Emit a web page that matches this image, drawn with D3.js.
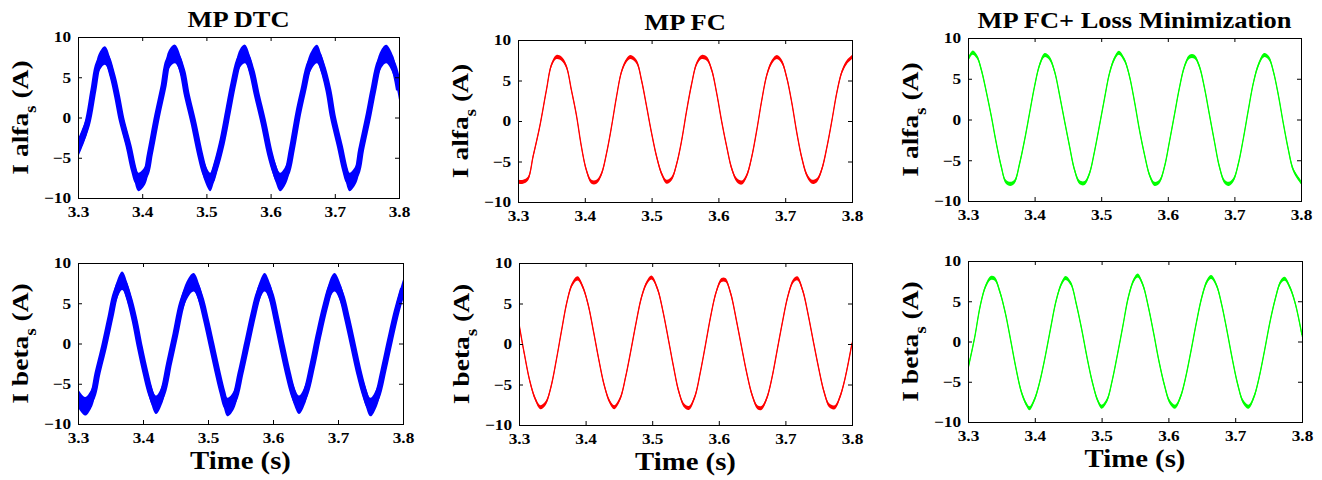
<!DOCTYPE html>
<html>
<head>
<meta charset="utf-8">
<script src="https://cdnjs.cloudflare.com/ajax/libs/d3/7.8.5/d3.min.js"></script>
<style>
body{margin:0;background:#fff;}
svg text{font-family:"Liberation Serif","Times New Roman",serif;font-weight:bold;fill:#000;}
.tick text{font-size:15px;}
</style>
</head>
<body>
<div id="chart"></div>
<script>
// stator currents: time (s) / current (A)
var dtcAlphaT = [3.300,3.314,3.324,3.332,3.342,3.353,3.361,3.368,3.379,3.387,3.394,3.405,3.412,3.423,3.433,3.441,3.451,3.462,3.469,3.480,3.490,3.498,3.506,3.513,3.524,3.534,3.542,3.552,3.560,3.570,3.578,3.589,3.599,3.607,3.615,3.625,3.633,3.643,3.651,3.661,3.672,3.679,3.690,3.697,3.708,3.716,3.723,3.734,3.741,3.752,3.760,3.770,3.780,3.791,3.800];
var dtcAlphaI = [-3.8,-0.9,3.4,6.7,7.7,5.4,2.6,-0.3,-3.6,-6.5,-8.0,-7.1,-4.5,0.1,3.8,7.1,7.9,5.9,3.0,-0.7,-4.5,-6.9,-8.0,-6.5,-3.2,0.9,4.2,7.3,7.9,5.9,3.0,-0.7,-4.5,-6.7,-8.0,-6.9,-4.0,0.5,3.4,6.7,7.9,6.7,3.4,0.1,-3.6,-6.5,-8.0,-6.9,-4.0,0.1,3.4,6.9,7.9,6.5,3.4];

var fcAlphaT = [3.300,3.3075,3.315,3.3225,3.3325,3.3425,3.35,3.3575,3.365,3.3725,3.38,3.3875,3.395,3.4025,3.41,3.4175,3.425,3.4325,3.44,3.4475,3.455,3.4625,3.4685,3.4775,3.485,3.4925,3.5,3.5075,3.515,3.5225,3.53,3.5375,3.545,3.5525,3.56,3.5675,3.575,3.5825,3.59,3.5975,3.605,3.6125,3.62,3.6275,3.635,3.6425,3.65,3.6575,3.665,3.6725,3.68,3.6875,3.695,3.7025,3.71,3.7175,3.725,3.7325,3.74,3.7475,3.755,3.7625,3.77,3.7775,3.785,3.7925,3.8];
var fcAlphaI = [-7.5,-7.5,-7.1,-4.4,-0.7,3.8,6.9,7.9,7.7,6.7,3.8,0.7,-3.2,-6.1,-7.5,-7.5,-6.5,-4.0,-0.7,3.0,6.1,7.5,7.9,7.3,5.0,1.8,-1.5,-4.4,-6.5,-7.5,-7.1,-5.3,-2.4,1.3,4.6,7.1,7.9,7.7,6.3,3.4,-0.1,-3.2,-5.9,-7.3,-7.6,-6.7,-4.4,-1.1,2.6,5.7,7.3,7.9,7.3,5.3,2.2,-1.5,-4.6,-6.7,-7.5,-7.3,-5.9,-3.2,0.1,3.6,6.1,7.3,7.9];

var lmAlphaT = [3.300,3.3065,3.3135,3.320,3.3275,3.335,3.3425,3.350,3.3565,3.3635,3.370,3.3775,3.385,3.3925,3.400,3.4075,3.415,3.4225,3.430,3.4375,3.445,3.4525,3.460,3.4675,3.475,3.4825,3.490,3.4975,3.505,3.5125,3.520,3.5265,3.535,3.5425,3.550,3.5575,3.565,3.5725,3.580,3.5875,3.595,3.6025,3.610,3.6175,3.625,3.6325,3.640,3.6475,3.655,3.6625,3.670,3.6775,3.685,3.6915,3.6985,3.706,3.7135,3.721,3.7285,3.736,3.7445,3.752,3.7585,3.766,3.7735,3.781,3.7885,3.800];
var lmAlphaI = [7.3,8.2,7.7,6.1,3.4,0.4,-2.9,-5.8,-7.6,-7.9,-7.6,-5.4,-2.5,0.8,4.1,6.7,7.9,7.5,5.9,3.0,-0.2,-3.3,-6.2,-7.7,-7.8,-6.6,-3.9,-0.7,2.6,5.7,7.5,8.2,7.3,5.3,2.2,-1.3,-4.3,-6.8,-7.9,-7.6,-5.8,-2.7,0.6,3.9,6.5,7.7,7.7,6.5,3.9,0.6,-2.7,-5.8,-7.6,-7.9,-7.4,-5.4,-2.3,1.2,4.5,6.7,7.9,7.5,5.9,3.0,-0.5,-3.7,-6.2,-7.7];

var dtcBetaT = [3.300,3.311,3.322,3.330,3.340,3.350,3.358,3.368,3.378,3.387,3.395,3.404,3.412,3.420,3.430,3.440,3.450,3.460,3.470,3.478,3.488,3.497,3.505,3.514,3.522,3.530,3.540,3.550,3.560,3.570,3.578,3.587,3.596,3.605,3.614,3.623,3.632,3.640,3.650,3.660,3.670,3.680,3.690,3.695,3.705,3.714,3.723,3.732,3.741,3.750,3.760,3.770,3.780,3.790,3.800];
var dtcBetaI = [-6.8,-7.8,-6.6,-3.7,-0.4,3.3,6.2,7.8,5.8,2.9,-0.4,-3.7,-6.2,-7.6,-6.2,-2.5,1.2,5.0,7.0,7.6,5.8,2.9,0,-3.3,-6.0,-7.9,-7.0,-3.7,0,3.7,6.2,7.6,6.2,3.1,-0.4,-3.7,-6.4,-7.6,-6.2,-2.9,1.0,4.5,7.2,7.6,6.0,3.1,-0.2,-3.5,-6.2,-7.9,-6.6,-3.3,0.4,3.9,6.8];

var fcBetaT = [3.300,3.308,3.316,3.324,3.332,3.340,3.348,3.356,3.364,3.372,3.380,3.388,3.396,3.404,3.412,3.420,3.428,3.436,3.443,3.452,3.460,3.468,3.476,3.484,3.492,3.499,3.508,3.516,3.524,3.532,3.540,3.548,3.555,3.564,3.572,3.580,3.588,3.596,3.604,3.610,3.618,3.626,3.634,3.642,3.650,3.658,3.664,3.672,3.680,3.688,3.696,3.704,3.712,3.718,3.726,3.734,3.742,3.750,3.758,3.766,3.774,3.782,3.790,3.800];
var fcBetaI = [2.5,-1.2,-4.5,-6.7,-7.8,-7.3,-5.3,-2.0,1.7,5.2,7.4,8.1,7.0,4.8,1.5,-2.0,-5.1,-7.1,-7.8,-6.7,-4.1,-0.8,2.7,5.8,7.6,8.2,6.8,4.1,0.7,-2.8,-5.9,-7.6,-7.9,-6.5,-3.6,-0.1,3.5,6.4,7.9,7.9,6.2,3.1,-0.3,-3.6,-6.3,-7.8,-7.9,-6.7,-4.1,-0.6,2.9,6.0,7.8,8.1,6.6,3.7,0.3,-3.0,-5.9,-7.6,-7.8,-6.5,-4.1,0.1];

var lmBetaT = [3.300,3.310,3.318,3.326,3.334,3.340,3.348,3.356,3.364,3.372,3.380,3.388,3.392,3.400,3.408,3.416,3.424,3.432,3.440,3.446,3.454,3.462,3.470,3.478,3.486,3.494,3.500,3.508,3.516,3.524,3.532,3.540,3.548,3.554,3.562,3.570,3.578,3.586,3.594,3.602,3.610,3.618,3.626,3.634,3.642,3.650,3.658,3.664,3.672,3.680,3.688,3.696,3.704,3.712,3.720,3.728,3.736,3.744,3.752,3.760,3.768,3.774,3.782,3.790,3.800];
var lmBetaI = [-3.4,0.5,4.3,6.8,7.9,7.8,6.1,3.5,0.1,-3.4,-6.3,-7.9,-8.3,-7.1,-4.8,-1.7,1.8,5.1,7.2,7.9,7.2,4.7,1.6,-1.9,-5.0,-7.3,-8.1,-7.3,-4.8,-1.5,2.0,5.5,7.6,8.2,7.0,4.3,1.0,-2.5,-5.4,-7.5,-8.1,-6.9,-4.4,-1.1,2.4,5.5,7.5,8.0,7.0,4.5,1.2,-2.3,-5.4,-7.5,-8.1,-6.9,-4.4,-1.1,2.4,5.3,7.4,7.8,6.7,4.7,0.8];

var xTicks = [3.3,3.4,3.5,3.6,3.7,3.8];
var yTicks = [-10,-5,0,5,10];
var titles = ["MP DTC","MP FC","MP FC+ Loss Minimization"];
var yNames = ["alfa","beta"];

var W = 1322, H = 480;
var svg = d3.select("#chart").append("svg").attr("width",W).attr("height",H);

// frames [left, top, right, bottom] per row / column
var frames = [
  [[78,37,399,198],[518,40,852,202],[968,38,1301,201]],
  [[78,263,403,424],[519,263,852,425],[968,261,1302,422]]
];
var colors = ["#0000ff","#ff0000","#00ff00"];
var band = [1.15,0.25,0.25];     // trace thickness (A), the ripple
var lineW = [6,1.3,1.3];
var series = [
  [d3.zip(dtcAlphaT,dtcAlphaI), d3.zip(fcAlphaT,fcAlphaI), d3.zip(lmAlphaT,lmAlphaI)],
  [d3.zip(dtcBetaT,dtcBetaI), d3.zip(fcBetaT,fcBetaI), d3.zip(lmBetaT,lmBetaI)]
];
var stretch = "scale(1.15,1)";

frames.forEach(function(row,r){
  row.forEach(function(f,c){
    var id = "clip"+r+c;
    var g = svg.append("g");
    var x = d3.scaleLinear().domain([3.3,3.8]).range([f[0],f[2]]);
    var y = d3.scaleLinear().domain([-10,10]).range([f[3],f[1]]);

    svg.append("clipPath").attr("id",id).append("rect")
      .attr("x",f[0]).attr("y",f[1]).attr("width",f[2]-f[0]).attr("height",f[3]-f[1]);

    var hb = band[c];
    var area = d3.area().x(function(d){return x(d[0]);})
      .y0(function(d){return y(d[1]-hb);})
      .y1(function(d){return y(d[1]+hb);})
      .curve(d3.curveCatmullRom);
    var line = d3.line().x(function(d){return x(d[0]);})
      .y(function(d){return y(d[1]);})
      .curve(d3.curveCatmullRom);

    var plot = g.append("g").attr("clip-path","url(#"+id+")");
    plot.append("path").datum(series[r][c]).attr("d",area)
      .attr("fill",colors[c]).attr("stroke","none");
    plot.append("path").datum(series[r][c]).attr("d",line)
      .attr("fill","none").attr("stroke",colors[c]).attr("stroke-width",lineW[c])
      .attr("stroke-linejoin","round");

    // axes, ticks pointing in on all four sides
    var ax = g.append("g").attr("transform","translate(0,"+f[3]+")")
      .call(d3.axisBottom(x).tickValues(xTicks).tickFormat(d3.format(".1f"))
        .tickSizeInner(-4).tickSizeOuter(0).tickPadding(8));
    g.append("g").attr("transform","translate(0,"+f[1]+")")
      .call(d3.axisTop(x).tickValues(xTicks).tickFormat("").tickSizeInner(-4).tickSizeOuter(0));
    var ay = g.append("g").attr("transform","translate("+f[0]+",0)")
      .call(d3.axisLeft(y).tickValues(yTicks).tickSizeInner(-4).tickSizeOuter(0).tickPadding(6));
    g.append("g").attr("transform","translate("+f[2]+",0)")
      .call(d3.axisRight(y).tickValues(yTicks).tickFormat("").tickSizeInner(-4).tickSizeOuter(0));
    g.selectAll(".domain").remove();
    ax.selectAll("text").attr("transform",stretch);
    ay.selectAll("text").attr("transform",stretch);

    g.append("rect").attr("x",f[0]+0.5).attr("y",f[1]+0.5)
      .attr("width",f[2]-f[0]).attr("height",f[3]-f[1])
      .attr("fill","none").attr("stroke","#000").attr("stroke-width",1);

    // y label with subscript s
    var lab = g.append("text")
      .attr("transform","translate("+(f[0]-50)+","+((f[1]+f[3])/2)+") rotate(-90) "+stretch)
      .attr("text-anchor","middle").style("font-size","24px");
    lab.append("tspan").text("I "+yNames[r]);
    lab.append("tspan").attr("dy",8).style("font-size","16px").text("s");
    lab.append("tspan").attr("dy",-8).text(" (A)");

    if(r===0){
      g.append("text").attr("transform","translate("+((f[0]+f[2])/2)+","+(f[1]-10)+") "+stretch)
        .attr("text-anchor","middle").style("font-size","23px").text(titles[c]);
    } else {
      g.append("text").attr("transform","translate("+((f[0]+f[2])/2)+","+(f[3]+45)+") "+stretch)
        .attr("text-anchor","middle").style("font-size","25px").text("Time (s)");
    }
  });
});
</script>
</body>
</html>
